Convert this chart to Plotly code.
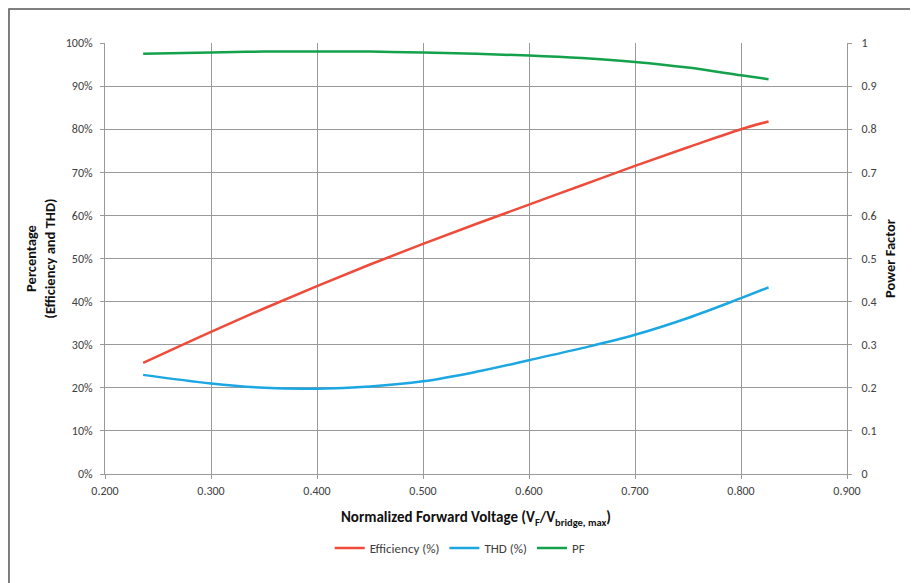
import plotly.graph_objects as go

vf = [0.236, 0.300, 0.350, 0.400, 0.450, 0.500, 0.550, 0.600, 0.650, 0.700, 0.750, 0.800, 0.826]
efficiency = [25.8, 33.0, 38.4, 43.6, 48.6, 53.4, 58.0, 62.5, 67.0, 71.5, 75.8, 80.0, 81.8]
thd = [23.0, 21.0, 20.0, 19.8, 20.3, 21.5, 23.7, 26.4, 29.2, 32.3, 36.2, 40.8, 43.3]
pf = [0.975, 0.978, 0.980, 0.980, 0.980, 0.978, 0.975, 0.971, 0.965, 0.956, 0.943, 0.925, 0.916]

x_ticks = [0.2, 0.3, 0.4, 0.5, 0.6, 0.7, 0.8, 0.9]
x_tick_labels = ["0.200", "0.300", "0.400", "0.500", "0.600", "0.700", "0.800", "0.900"]
y_ticks = [0, 10, 20, 30, 40, 50, 60, 70, 80, 90, 100]
y_tick_labels = [f"{v}%" for v in y_ticks]
y2_ticks = [0, 0.1, 0.2, 0.3, 0.4, 0.5, 0.6, 0.7, 0.8, 0.9, 1.0]
y2_tick_labels = ["0", "0.1", "0.2", "0.3", "0.4", "0.5", "0.6", "0.7", "0.8", "0.9", "1"]

FONT = "Carlito, Lato, 'Open Sans', sans-serif"
GRID = "#9a9a9a"
TXT = "#404040"
TTL = "#111111"

fig = go.Figure()
fig.add_trace(go.Scatter(x=vf, y=efficiency, name="Efficiency (%)", mode="lines",
                         line=dict(color="#EE4B3A", width=2.5, shape="spline")))
fig.add_trace(go.Scatter(x=vf, y=thd, name="THD (%)", mode="lines",
                         line=dict(color="#1CA7E3", width=2.5, shape="spline")))
fig.add_trace(go.Scatter(x=vf, y=pf, name="PF", mode="lines", yaxis="y2",
                         line=dict(color="#13A14B", width=2.5, shape="spline")))

fig.update_layout(
    width=910, height=575,
    margin=dict(l=97, r=71, t=35, b=109, autoexpand=False),
    paper_bgcolor="white", plot_bgcolor="white",
    font=dict(family=FONT, size=12, color=TXT),
    showlegend=True,
    legend=dict(orientation="h", x=0.478, xanchor="center", y=-0.172, yanchor="middle",
                font=dict(size=13, color=TXT), itemwidth=30, tracegroupgap=0),
    xaxis=dict(range=[0.2, 0.9], tickvals=x_ticks, ticktext=x_tick_labels,
               showgrid=True, gridcolor=GRID, gridwidth=1.2, automargin=False,
               showline=True, linecolor=GRID, ticks="outside", ticklen=4, tickcolor=GRID,
               zeroline=False, ticklabelstandoff=2,
               title=dict(text="<b>Normalized Forward Voltage (V<sub>F</sub>/V<sub>bridge, max</sub>)</b>",
                          font=dict(size=15, color=TTL, family=FONT), standoff=14)),
    yaxis=dict(range=[0, 100], tickvals=y_ticks, ticktext=y_tick_labels,
               showgrid=True, gridcolor=GRID, gridwidth=1.2, automargin=False,
               showline=True, linecolor=GRID, ticks="outside", ticklen=4, tickcolor=GRID,
               zeroline=False, ticklabelstandoff=5,
               title=dict(text="<b>Percentage<br>(Efficiency and THD)</b>",
                          font=dict(size=14.5, color=TTL, family=FONT), standoff=6)),
    yaxis2=dict(range=[0, 1], tickvals=y2_ticks, ticktext=y2_tick_labels, overlaying="y",
                side="right", showgrid=False, showline=True, linecolor=GRID, automargin=False,
                ticks="outside", ticklen=4, tickcolor=GRID, zeroline=False, ticklabelstandoff=7,
                title=dict(text="<b>Power Factor</b>",
                           font=dict(size=14.5, color=TTL, family=FONT), standoff=9)),
)

fig.add_shape(type="path", xref="paper", yref="paper",
              path="M -0.1294,-0.30 L -0.1294,1.0789 L 1.0889,1.0789 L 1.0889,-0.30",
              line=dict(color="#555555", width=1.5))

fig.write_html("out.html")
